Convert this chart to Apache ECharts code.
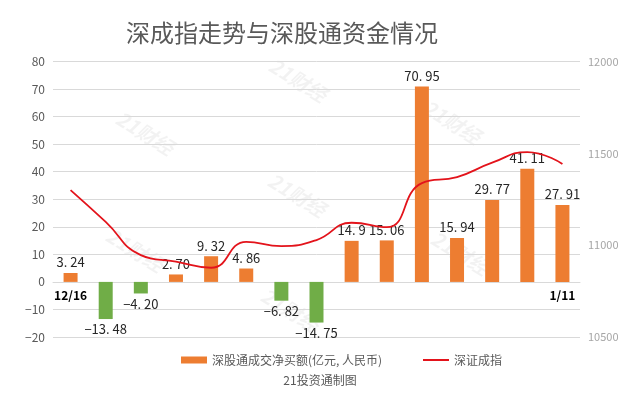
<!DOCTYPE html>
<html><head><meta charset="utf-8">
<script src="https://cdn.jsdelivr.net/npm/echarts@6/dist/echarts.min.js"></script>
<style>html,body{margin:0;padding:0;background:#fff}#c{width:637px;height:398px}</style>
</head><body><div id="c"></div>
<script>
const categories = ['12/16','12/17','12/18','12/19','12/20','12/23','12/24','12/27','12/30','12/31','1/2','1/3','1/7','1/10','1/11'];
const netBuy = [3.24,-13.48,-4.20,2.70,9.32,4.86,-6.82,-14.75,14.9,15.06,70.95,15.94,29.77,41.11,27.91];
const netBuyLabels = ['3. 24','−13. 48','−4. 20','2. 70','9. 32','4. 86','−6. 82','−14. 75','14. 9','15. 06','70. 95','15. 94','29. 77','41. 11','27. 91'];
const szIndex = [11300,11127,10946,10910,10877,11018,10995,11028,11122,11098,11338,11371,11449,11507,11442];
const titleText = '深成指走势与深股通资金情况';
const barName = '深股通成交净买额(亿元, 人民币)';
const lineName = '深证成指';
const sourceText = '21投资通制图';
const watermark = '21财经';

const FF = '"Noto Sans CJK SC","Noto Sans",sans-serif';
const chart = echarts.init(document.getElementById('c'), null, {renderer:'canvas'});
const last = categories.length - 1;

const wmPos = [[298,80],[145,133],[452,122],[297,195],[135,250],[460,253],[290,310]];
const graphics = wmPos.map(p => ({
  type:'text', x:p[0], y:p[1], rotation:-0.55, z:-1, silent:true,
  style:{text:watermark, fill:'rgba(0,0,0,0.05)', font:'bold italic 20px '+FF, align:'center', verticalAlign:'middle'}
}));
graphics.push({type:'text', x:320, y:380, style:{text:sourceText, fill:'#595959', font:'12px '+FF, align:'center', verticalAlign:'middle'}});

const legendText = {fontSize:12, color:'#595959', fontFamily:FF};
chart.setOption({
  animation:false,
  backgroundColor:'#fff',
  title:{text:titleText, left:121, top:16, textStyle:{fontSize:24, fontWeight:'normal', color:'#595959', fontFamily:FF}},
  graphic:graphics,
  legend:[
    {left:176, top:349, itemWidth:26, itemHeight:7, textStyle:legendText, data:[{name:barName, icon:'rect'}]},
    {left:418, top:349, itemWidth:26, itemHeight:2, textStyle:legendText, data:[{name:lineName, icon:'rect'}]}
  ],
  grid:{left:53, right:57, top:61.5, bottom:61},
  xAxis:{type:'category', data:categories, offset:-55.2,
    axisLine:{onZero:false, lineStyle:{color:'#d9d9d9'}}, axisTick:{show:false},
    axisLabel:{interval:(i)=> i===0 || i===last, fontWeight:'bold', color:'#000', fontSize:12, margin:8, fontFamily:FF}},
  yAxis:[
    {type:'value', min:-20, max:80, interval:10,
      axisLine:{show:false}, axisTick:{show:false},
      splitLine:{lineStyle:{color:'#d9d9d9'}},
      axisLabel:{color:'#595959', fontSize:12, margin:8, fontFamily:FF, formatter:v=> String(v).replace('-','−')}},
    {type:'value', min:10500, max:12000, interval:500,
      axisLine:{show:false}, axisTick:{show:false}, splitLine:{show:false},
      axisLabel:{color:'#a6a6a6', fontSize:11, margin:8, fontFamily:FF, formatter:v=>String(v)}}
  ],
  series:[
    {name:barName, type:'bar', barWidth:14, yAxisIndex:0,
      itemStyle:{color:'#ED7D31'},
      data:netBuy.map((v,i)=>({value:v,
        itemStyle:{color: v<0 ? '#70AD47' : '#ED7D31'},
        label:{show:true, position: v<0 ? 'bottom' : 'top', distance:4,
          formatter:()=>netBuyLabels[i], color:'#262626', fontSize:13, fontFamily:FF}}))},
    {name:lineName, type:'line', yAxisIndex:1, smooth:0.5, symbol:'none',
      lineStyle:{color:'#E3131B', width:1.8}, itemStyle:{color:'#E3131B'},
      data:szIndex}
  ]
});
</script></body></html>
